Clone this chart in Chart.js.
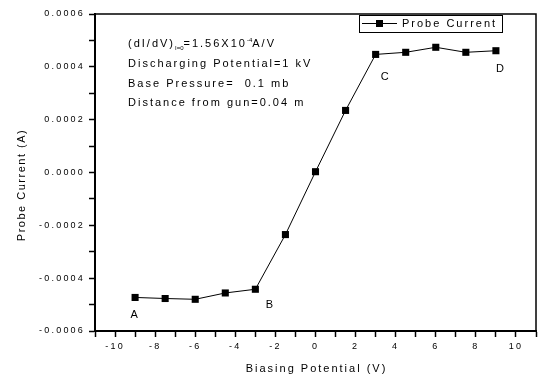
<!DOCTYPE html>
<html>
<head>
<meta charset="utf-8">
<script src="https://cdn.jsdelivr.net/npm/chart.js@4/dist/chart.umd.min.js"></script>
<style>
html,body{margin:0;padding:0;background:#fff;}
#wrap{width:541px;height:380px;}
</style>
</head>
<body>
<div id="wrap"><canvas id="c" width="541" height="380"></canvas></div>
<script>
const biasV = [-9, -7.5, -6, -4.5, -3, -1.5, 0, 1.5, 3, 4.5, 6, 7.5, 9];
const probeI = [-0.000473, -0.000477, -0.000480, -0.000456, -0.000442, -0.000235, 0.000003, 0.000235, 0.000447, 0.000455, 0.000474, 0.000455, 0.000461];
const seriesName = 'Probe Current';
const pointLabels = ['A', 'B', 'C', 'D'];
const pointLabelIndex = [0, 4, 8, 12];
const xTitle = 'Biasing Potential (V)';
const yTitle = 'Probe Current (A)';
const infoLines = ['Discharging Potential=1 kV', 'Base Pressure=  0.1 mb', 'Distance from gun=0.04 m'];
const FONT = '"Liberation Sans", Arial, sans-serif';

const spacing = {
  id: 'spacing',
  beforeDraw(chart) { chart.ctx.letterSpacing = '2.2px'; }
};

const overlay = {
  id: 'overlay',
  afterDraw(chart) {
    const ctx = chart.ctx;
    const ca = chart.chartArea;
    const xs = chart.scales.x, ys = chart.scales.y;
    ctx.save();
    ctx.letterSpacing = '2px';
    // frame
    ctx.strokeStyle = '#000';
    ctx.lineWidth = 1.5;
    ctx.strokeRect(ca.left, ca.top, ca.right - ca.left, ca.bottom - ca.top);
    ctx.fillStyle = '#000';
    // axis titles
    ctx.font = '11px ' + FONT;
    ctx.textAlign = 'center';
    ctx.textBaseline = 'middle';
    ctx.fillText(xTitle, (ca.left + ca.right) / 2 + 1, 369);
    ctx.save();
    ctx.translate(22, 185);
    ctx.rotate(-Math.PI / 2);
    ctx.letterSpacing = '1.5px';
    ctx.fillText(yTitle, 0, 0);
    ctx.restore();
    // point labels
    const offs = [[-1, 18], [14, 16], [9, 23], [4, 18]];
    pointLabels.forEach((name, k) => {
      const i = pointLabelIndex[k];
      const px = xs.getPixelForValue(biasV[i]), py = ys.getPixelForValue(probeI[i]);
      ctx.fillText(name, px + offs[k][0] + 1, py + offs[k][1]);
    });
    // annotation text
    ctx.textAlign = 'left';
    const x0 = 128;
    let w = 0;
    const seg = (t, size, dy) => {
      ctx.font = size + 'px ' + FONT;
      ctx.fillText(t, x0 + w, 44 + dy);
      w += ctx.measureText(t).width;
    };
    seg('(dI/dV)', 11, 0);
    ctx.letterSpacing = '0px';
    seg('I=0', 6, 4);
    ctx.letterSpacing = '2px';
    seg('=1.56X10', 11, 0);
    ctx.letterSpacing = '0px';
    seg('-4', 6, -4);
    ctx.letterSpacing = '2px';
    seg('A/V', 11, 0);
    ctx.font = '11px ' + FONT;
    const ly = [64, 84, 103];
    infoLines.forEach((t, k) => ctx.fillText(t, x0, ly[k]));
    // legend
    ctx.lineWidth = 1;
    ctx.strokeRect(359.5, 15.5, 143, 17);
    ctx.beginPath();
    ctx.moveTo(362, 23.5); ctx.lineTo(397, 23.5);
    ctx.stroke();
    ctx.fillRect(376, 20, 7, 7);
    ctx.fillText(seriesName, 402, 23.5);
    ctx.restore();
  }
};

new Chart(document.getElementById('c'), {
  type: 'scatter',
  data: {
    datasets: [{
      label: seriesName,
      data: biasV.map((v, i) => ({x: v, y: probeI[i]})),
      showLine: true,
      borderColor: '#000',
      borderWidth: 1,
      backgroundColor: '#000',
      pointStyle: 'rect',
      pointRadius: 5,
      pointBorderWidth: 0
    }]
  },
  options: {
    responsive: false,
    animation: false,
    layout: {padding: {top: 14, right: 1, left: 0, bottom: 0}},
    plugins: {legend: {display: false}, tooltip: {enabled: false}},
    scales: {
      x: {
        type: 'linear', min: -11, max: 11,
        afterFit(s) { s.height = 49; },
        border: {display: true, color: '#000', width: 2},
        grid: {drawOnChartArea: false, drawTicks: true, tickLength: 6, color: '#000', tickWidth: 1.5},
        ticks: {
          stepSize: 1, autoSkip: false, maxRotation: 0, padding: 4,
          color: '#000', font: {family: FONT, size: 9},
          callback(v) { return (Math.round(v) % 2 === 0 && Math.abs(v) <= 10) ? String(Math.round(v)) : ''; }
        },
        title: {display: false}
      },
      y: {
        type: 'linear', min: -0.0006, max: 0.0006,
        afterFit(s) { s.width = 95; },
        border: {display: true, color: '#000', width: 2},
        grid: {drawOnChartArea: false, drawTicks: true, tickLength: 6, color: '#000', tickWidth: 1.5},
        ticks: {
          stepSize: 0.0001, autoSkip: false, padding: 4,
          color: '#000', font: {family: FONT, size: 9},
          callback(v) {
            const k = Math.round(v / 0.0001);
            if (k % 2 !== 0) return '';
            const s = (k * 0.0001).toFixed(4);
            return s === '-0.0000' ? '0.0000' : s;
          }
        },
        title: {display: false}
      }
    }
  },
  plugins: [spacing, overlay]
});
</script>
</body>
</html>
